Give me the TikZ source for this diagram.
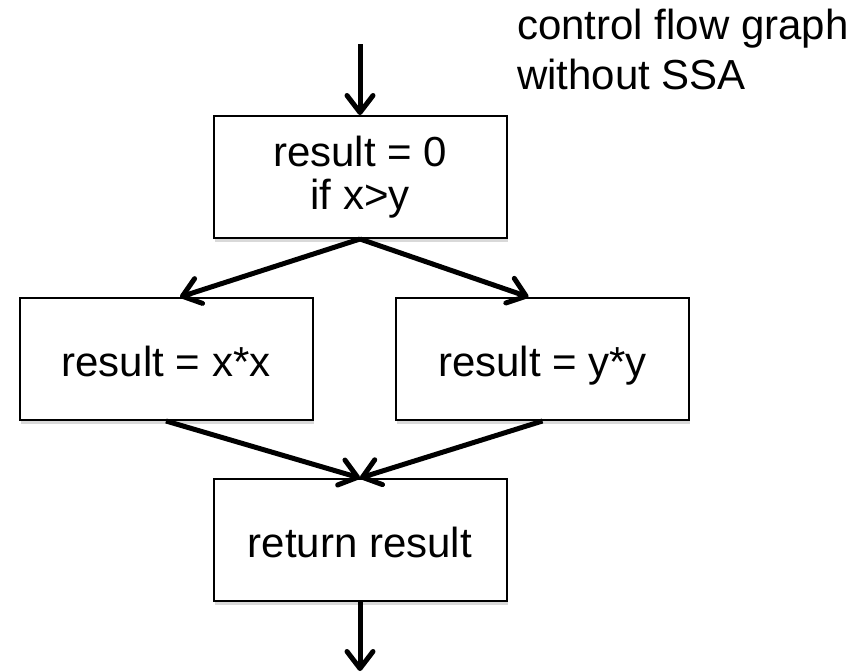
\documentclass[tikz,border=0pt]{standalone}
\usepackage{fontspec}
\setmainfont{Liberation Sans}
\usetikzlibrary{arrows.meta,shadows}
\begin{document}
\begin{tikzpicture}[x=1pt,y=-1pt,
  blockbox/.style={draw=black, line width=2pt, fill=white, minimum width=293pt, minimum height=122pt, inner sep=0pt,
    drop shadow={opacity=0.3, shadow xshift=1pt, shadow yshift=-4pt},
    font=\fontsize{42}{43}\selectfont, align=center},
  oneline/.style={text height=34pt, text depth=0pt},
  flow/.style={line width=5pt, -{Straight Barb[length=17pt,width=26pt,round]}},
  lbl/.style={font=\fontsize{42}{46}\selectfont, inner sep=0pt, anchor=base west}
]
\useasboundingbox (0,0) rectangle (863,672);
\node[blockbox] (T) at (360,177) {\rule{0pt}{0pt}result = 0\\if x>y};
\node[blockbox, oneline] (L) at (166,359) {result = x*x};
\node[blockbox, oneline] (R) at (542.5,359) {result = y*y};
\node[blockbox, oneline] (B) at (360,540) {return result};
\coordinate (in) at (360,44);
\coordinate (out) at (360,671);
\node[lbl] (t1) at (517,39) {control flow graph};
\node[lbl] (t2) at (517,89) {without SSA};
\draw[flow] (in) -- (T.north);
\draw[flow] (T.south) -- ([xshift=14pt]L.north);
\draw[flow] (T.south) -- ([xshift=-14pt]R.north);
\draw[flow] (L.south) -- (B.north);
\draw[flow] (R.south) -- (B.north);
\draw[flow] (B.south) -- (out);
\end{tikzpicture}
\end{document}
